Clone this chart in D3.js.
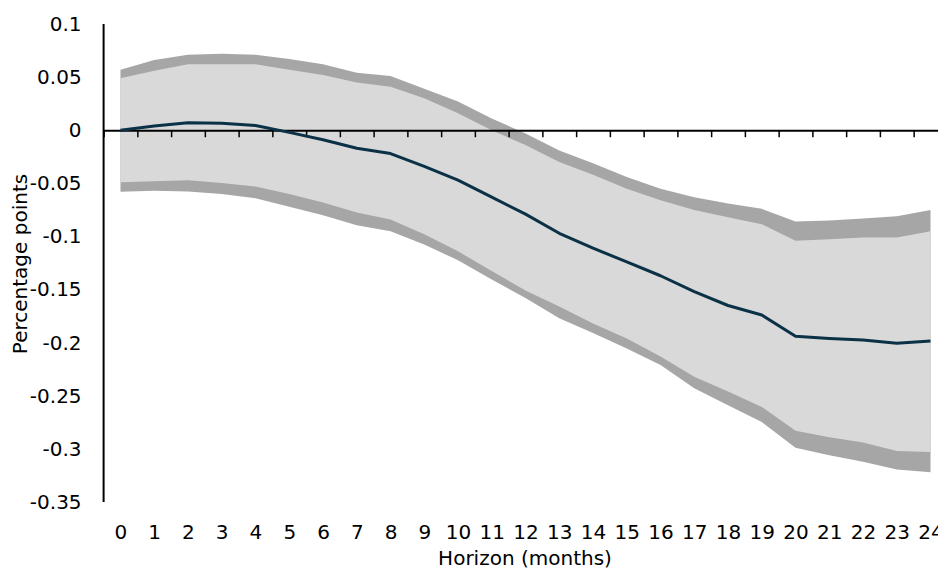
<!DOCTYPE html>
<html>
<head>
<meta charset="utf-8">
<script src="https://cdn.jsdelivr.net/npm/d3@7"></script>
<style>
  html, body { margin: 0; padding: 0; background: #fff; overflow: hidden; }
  svg { display: block; }
</style>
</head>
<body>
<div id="chart"></div>
<script>
// Horizon (months) and the estimated response with its two bands
const horizons = d3.range(0, 25)
const central = [0, 0.004, 0.007, 0.0065, 0.0045, -0.002, -0.009, -0.017, -0.022, -0.034,
  -0.047, -0.063, -0.079, -0.097, -0.111, -0.124, -0.137, -0.152, -0.165, -0.174,
  -0.194, -0.196, -0.1975, -0.2005, -0.1985]
const upperOuter = [0.057, 0.066, 0.071, 0.072, 0.071, 0.067, 0.062, 0.054, 0.051, 0.039,
  0.027, 0.011, -0.003, -0.019, -0.031, -0.044, -0.055, -0.063, -0.069, -0.074,
  -0.086, -0.085, -0.083, -0.081, -0.075]
const upperInner = [0.049, 0.056, 0.062, 0.062, 0.062, 0.057, 0.052, 0.045, 0.041, 0.030,
  0.016, 0.0, -0.014, -0.030, -0.042, -0.055, -0.066, -0.075, -0.082, -0.0885,
  -0.104, -0.1026, -0.101, -0.101, -0.095]
const lowerInner = [-0.049, -0.048, -0.047, -0.0496, -0.053, -0.060, -0.068, -0.0775, -0.084, -0.098,
  -0.114, -0.1325, -0.151, -0.166, -0.182, -0.196, -0.213, -0.232, -0.246, -0.2605,
  -0.283, -0.289, -0.294, -0.302, -0.303]
const lowerOuter = [-0.058, -0.057, -0.0577, -0.060, -0.064, -0.072, -0.080, -0.0895, -0.095, -0.1075,
  -0.1225, -0.1405, -0.158, -0.177, -0.191, -0.2055, -0.221, -0.243, -0.259, -0.2747,
  -0.299, -0.306, -0.312, -0.3195, -0.322]
const yTicks = [0.1, 0.05, 0, -0.05, -0.1, -0.15, -0.2, -0.25, -0.3, -0.35]

const width = 938
const height = 578
const font = '"DejaVu Sans", sans-serif'

// plot runs past the right edge, as in the original export
const plotLeft = 103.6
const plotRight = 947.4
const plotTop = 24
const plotBottom = 502

const x = d3.scalePoint().domain(horizons).range([plotLeft, plotRight]).padding(0.5)
const xEdge = d3.scaleLinear().domain([-0.5, 24.5]).range([plotLeft, plotRight])
const y = d3.scaleLinear().domain([-0.35, 0.1]).range([plotBottom, plotTop])

const svg = d3.select('#chart').append('svg')
  .attr('width', width).attr('height', height)

const rows = horizons.map((h, i) => ({
  h, c: central[i], uo: upperOuter[i], ui: upperInner[i], li: lowerInner[i], lo: lowerOuter[i]
}))

// Outer band (darker) then inner band on top
svg.append('path')
  .datum(rows)
  .attr('fill', '#a6a6a6')
  .attr('d', d3.area().x(d => x(d.h)).y0(d => y(d.lo)).y1(d => y(d.uo)))

svg.append('path')
  .datum(rows)
  .attr('fill', '#d9d9d9')
  .attr('d', d3.area().x(d => x(d.h)).y0(d => y(d.li)).y1(d => y(d.ui)))

// Y axis
svg.append('g')
  .attr('transform', `translate(${plotLeft},0)`)
  .call(d3.axisLeft(y).tickValues(yTicks).tickSize(0).tickPadding(22)
    .tickFormat(v => String(Math.round(v * 100) / 100)))
  .call(g => {
    g.select('.domain').attr('stroke', '#000').attr('stroke-width', 2)
      .attr('d', `M0,${y(0.1)}V${y(-0.35)}`)
    g.selectAll('.tick text')
      .attr('fill', '#000').attr('font-size', '20px').attr('font-family', font)
  })

// Zero line with ticks between categories
svg.append('g')
  .attr('transform', `translate(0,${y(0)})`)
  .call(d3.axisBottom(xEdge).tickValues(d3.range(-0.5, 25, 1)).tickSize(7)
    .tickSizeOuter(0).tickFormat(''))
  .call(g => {
    g.select('.domain').attr('stroke', '#000').attr('stroke-width', 2)
    g.selectAll('.tick line').attr('stroke', '#000').attr('stroke-width', 1.5)
  })

// X labels along the bottom
svg.append('g')
  .attr('transform', `translate(0,525)`)
  .call(d3.axisBottom(x).tickSize(0).tickPadding(0))
  .call(g => {
    g.select('.domain').remove()
    g.selectAll('.tick text')
      .attr('fill', '#000').attr('font-size', '20px').attr('font-family', font)
  })

// Central estimate
svg.append('path')
  .datum(rows)
  .attr('fill', 'none')
  .attr('stroke', '#0b3147')
  .attr('stroke-width', 3)
  .attr('stroke-linejoin', 'round')
  .attr('d', d3.line().x(d => x(d.h)).y(d => y(d.c)))

// Axis titles
svg.append('text')
  .attr('x', 525).attr('y', 565)
  .attr('text-anchor', 'middle')
  .attr('fill', '#000').attr('font-size', '20px').attr('font-family', font)
  .text('Horizon (months)')

svg.append('text')
  .attr('transform', `translate(27,${(plotTop + plotBottom) / 2 + 1}) rotate(-90)`)
  .attr('text-anchor', 'middle')
  .attr('fill', '#000').attr('font-size', '20px').attr('font-family', font)
  .text('Percentage points')
</script>
</body>
</html>
